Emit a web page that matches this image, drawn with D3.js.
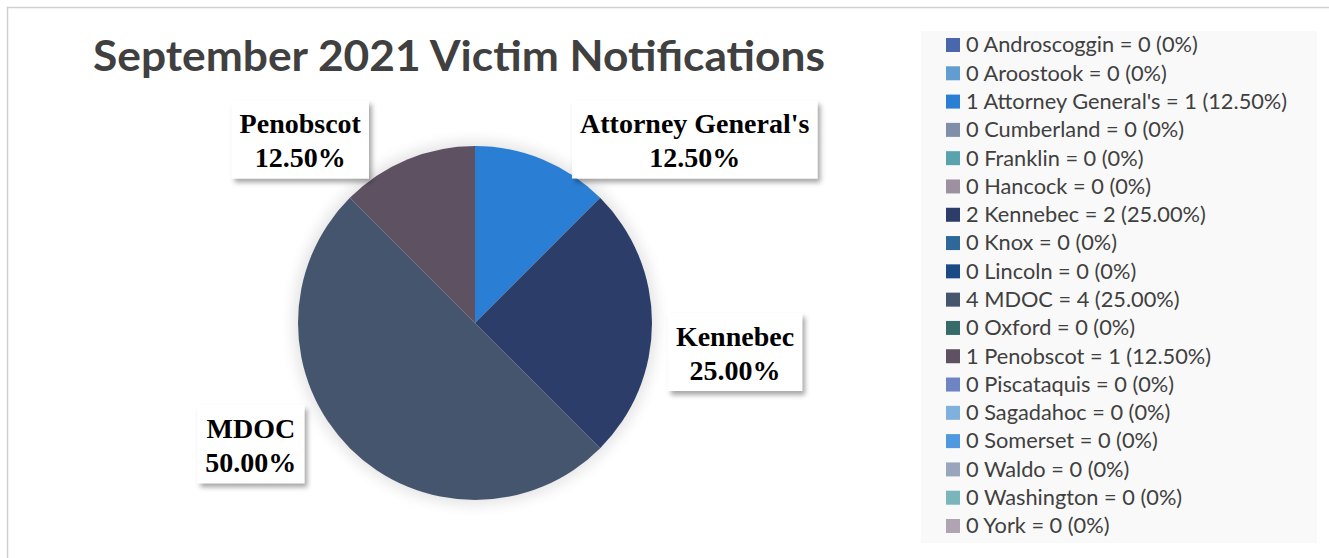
<!DOCTYPE html>
<html lang="en">
<head>
  <meta charset="UTF-8">
  <title>September 2021 Victim Notifications</title>
  <script src="https://d3js.org/d3.v7.min.js"></script>
  <style>
    body { margin: 0; background: #fff; }
    .title { font-family: Lato, "Open Sans", sans-serif; font-weight: bold; fill: #404040; }
    .legend text { font-family: Lato, "Open Sans", sans-serif; fill: #404040; }
    .label text { font-family: "Liberation Serif", serif; font-weight: bold; fill: #000; text-anchor: middle; }
  </style>
</head>
<body>
  <div id="chart"></div>
  <script>
    const names = ["Androscoggin", "Aroostook", "Attorney General's", "Cumberland", "Franklin",
                   "Hancock", "Kennebec", "Knox", "Lincoln", "MDOC", "Oxford", "Penobscot",
                   "Piscataquis", "Sagadahoc", "Somerset", "Waldo", "Washington", "York"];
    const counts = [0, 0, 1, 0, 0, 0, 2, 0, 0, 4, 0, 1, 0, 0, 0, 0, 0, 0];
    // percentages as printed in the legend (MDOC reads 25.00% in the source)
    const legendPct = ["0%", "0%", "12.50%", "0%", "0%", "0%", "25.00%", "0%", "0%", "25.00%",
                       "0%", "12.50%", "0%", "0%", "0%", "0%", "0%", "0%"];
    const colors = ["#4a66ac", "#629dd1", "#2a7fd5", "#7f8fa9", "#5aa2ae", "#9d90a0",
                    "#2c3d6a", "#2e6899", "#1b4b85", "#45556e", "#356c6b", "#5e5262",
                    "#6f84c2", "#80b0dc", "#5098e0", "#98a5bd", "#7ab5bb", "#b0a4b3"];

    // label box offsets from the slice's outer mid point
    const labelOffset = {
      "Attorney General's": [152, -20],
      "Kennebec": [83, 29],
      "MDOC": [-99, -4],
      "Penobscot": [-107, -20]
    };

    const W = 1329, H = 558;
    const cx = 475, cy = 323, R = 177;

    const svg = d3.select("#chart").append("svg")
      .attr("width", W).attr("height", H);

    const defs = svg.append("defs");
    defs.append("filter").attr("id", "boxShadow")
      .attr("x", "-20%").attr("y", "-20%").attr("width", "150%").attr("height", "160%")
      .append("feDropShadow")
      .attr("dx", 3).attr("dy", 4).attr("stdDeviation", 2.5)
      .attr("flood-color", "#000").attr("flood-opacity", 0.35);
    defs.append("filter").attr("id", "pieGlow")
      .attr("x", "-30%").attr("y", "-30%").attr("width", "160%").attr("height", "160%")
      .append("feGaussianBlur").attr("stdDeviation", 7);

    // outer frame
    svg.append("rect")
      .attr("x", 7.5).attr("y", 7.5).attr("width", W + 10).attr("height", H + 10)
      .attr("fill", "#fff").attr("stroke", "#d0d0d0").attr("stroke-width", 1.5);

    // title, squeezed to the reference width
    svg.append("text").attr("class", "title")
      .attr("x", 459).attr("y", 71).attr("text-anchor", "middle")
      .style("font-size", "42px")
      .attr("textLength", 732).attr("lengthAdjust", "spacingAndGlyphs")
      .text("September 2021 Victim Notifications");

    // pie
    const data = names.map((n, i) => ({ name: n, count: counts[i], color: colors[i] }));
    const pie = d3.pie().sort(null).value(d => d.count);
    const arcs = pie(data);
    const arc = d3.arc().innerRadius(0).outerRadius(R);

    const g = svg.append("g").attr("transform", `translate(${cx},${cy})`);
    g.append("circle").attr("r", R + 5).attr("fill", "#000").attr("opacity", 0.10)
      .attr("filter", "url(#pieGlow)");
    g.selectAll("path.slice")
      .data(arcs.filter(d => d.data.count > 0))
      .join("path")
      .attr("class", "slice")
      .attr("d", arc)
      .attr("fill", d => d.data.color);

    // data labels
    const outer = d3.arc().innerRadius(R).outerRadius(R);
    const labels = svg.append("g").selectAll("g.label")
      .data(arcs.filter(d => d.data.count > 0))
      .join("g")
      .attr("class", "label")
      .attr("transform", d => {
        const [x, y] = outer.centroid(d);
        const o = labelOffset[d.data.name] || [0, 0];
        return `translate(${cx + x + o[0]},${cy + y + o[1]})`;
      });
    labels.append("rect").attr("fill", "#fff").attr("filter", "url(#boxShadow)");
    labels.append("text").attr("y", -6).style("font-size", "28px").text(d => d.data.name);
    labels.append("text").attr("y", 28).style("font-size", "28px")
      .text(d => ((d.endAngle - d.startAngle) / (2 * Math.PI) * 100).toFixed(2) + "%");
    labels.each(function () {
      const sel = d3.select(this);
      let w = 0;
      sel.selectAll("text").each(function () { w = Math.max(w, this.getComputedTextLength()); });
      sel.select("rect").attr("x", -w / 2 - 8).attr("y", -39).attr("width", w + 16).attr("height", 78);
    });

    // legend
    svg.append("rect").attr("x", 921).attr("y", 31).attr("width", 396).attr("height", 512)
      .attr("fill", "#f9f9f9");
    const ly = d3.scalePoint().domain(names).range([45, 526]);
    const legend = svg.append("g").attr("class", "legend");
    const rows = legend.selectAll("g").data(data).join("g")
      .attr("transform", d => `translate(946,${ly(d.name)})`);
    rows.append("rect").attr("x", 0).attr("y", -7).attr("width", 14).attr("height", 14)
      .attr("fill", d => d.color);
    const ltext = rows.append("text").attr("x", 20).attr("dy", "0.35em").style("font-size", "21px")
      .text((d, i) => `${d.count} ${d.name} = ${d.count} (${legendPct[i]})`);
    const refW = ltext.filter((d, i) => i === 0).node().getComputedTextLength();
    const sx = 232 / refW;
    ltext.attr("transform", `translate(20,0) scale(${sx},1) translate(-20,0)`);
  </script>
</body>
</html>
